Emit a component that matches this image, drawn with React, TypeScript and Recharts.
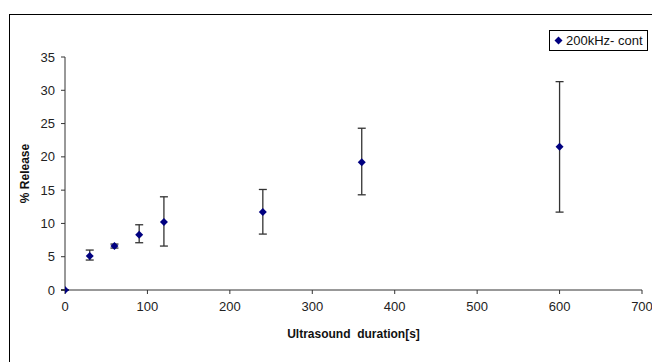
import { ScatterChart, Scatter, XAxis, YAxis, ErrorBar } from 'recharts';

const durations = [0, 30, 60, 90, 120, 240, 360, 600];
const release = [0, 5.1, 6.6, 8.3, 10.2, 11.7, 19.2, 21.5];
const lowerBound = [0, 4.5, 6.3, 7.1, 6.6, 8.4, 14.3, 11.7];
const upperBound = [0, 6.0, 6.9, 9.8, 14.0, 15.1, 24.3, 31.3];
const xTicks = [0, 100, 200, 300, 400, 500, 600, 700];
const yTicks = [0, 5, 10, 15, 20, 25, 30, 35];
const seriesName = '200kHz- cont';

const data = durations.map((t, i) => ({
  t,
  value: release[i],
  err: [release[i] - lowerBound[i], upperBound[i] - release[i]],
}));

const narrow = '"Liberation Sans Narrow", "Arial Narrow", "Liberation Sans", Arial';
const tickFont = { fontFamily: narrow, fontSize: 13, fill: '#222' };

const Diamond = (props: any) => {
  const { cx, cy } = props;
  if (cx == null || cy == null) return null;
  const r = 4;
  return <polygon points={`${cx},${cy - r} ${cx + r},${cy} ${cx},${cy + r} ${cx - r},${cy}`} fill="#000080" />;
};

export default function App() {
  return (
    <div style={{ position: 'absolute', left: 0, top: 0, width: 652, height: 362, background: '#fff', overflow: 'hidden' }}>
      <div style={{ position: 'absolute', left: 9, top: 14, width: 700, height: 400, border: '1px solid #000' }} />
      <div style={{ position: 'absolute', left: 0, top: 0 }}>
        <ScatterChart width={652} height={362} margin={{ top: 57, right: 10, bottom: 22, left: 15 }}>
          <XAxis
            type="number"
            dataKey="t"
            domain={[0, 700]}
            ticks={xTicks}
            allowDataOverflow
            tick={{ ...tickFont, dy: 6 }}
            tickSize={4}
            stroke="#333"
            height={50}
            label={{
              value: 'Ultrasound\u00a0\u00a0duration[s]',
              position: 'insideBottom',
              offset: 2,
              style: { fontFamily: 'Liberation Sans, Arial', fontWeight: 'bold', fontSize: 12, fill: '#111' },
            }}
          />
          <YAxis
            type="number"
            dataKey="value"
            domain={[0, 35]}
            ticks={yTicks}
            tick={{ ...tickFont, dx: -4 }}
            tickSize={4}
            stroke="#333"
            width={50}
            label={{
              value: '% Release',
              angle: -90,
              position: 'insideLeft',
              offset: 10,
              style: { fontFamily: 'Liberation Sans, Arial', fontWeight: 'bold', fontSize: 12, fill: '#111', textAnchor: 'middle' },
            }}
          />
          <Scatter name={seriesName} data={data} shape={<Diamond />} isAnimationActive={false}>
            <ErrorBar dataKey="err" direction="y" width={4} stroke="#333" strokeWidth={1.3} />
          </Scatter>
        </ScatterChart>
      </div>
      <div
        style={{
          position: 'absolute',
          left: 549,
          top: 30,
          border: '1px solid #000',
          background: '#fff',
          padding: '2px 4px',
          display: 'flex',
          alignItems: 'center',
          fontFamily: narrow,
          fontSize: 13,
          color: '#111',
          whiteSpace: 'nowrap',
        }}
      >
        <svg width={9} height={9} style={{ marginRight: 3 }}>
          <polygon points="4.5,0.5 8.5,4.5 4.5,8.5 0.5,4.5" fill="#000080" />
        </svg>
        {seriesName}
      </div>
    </div>
  );
}
